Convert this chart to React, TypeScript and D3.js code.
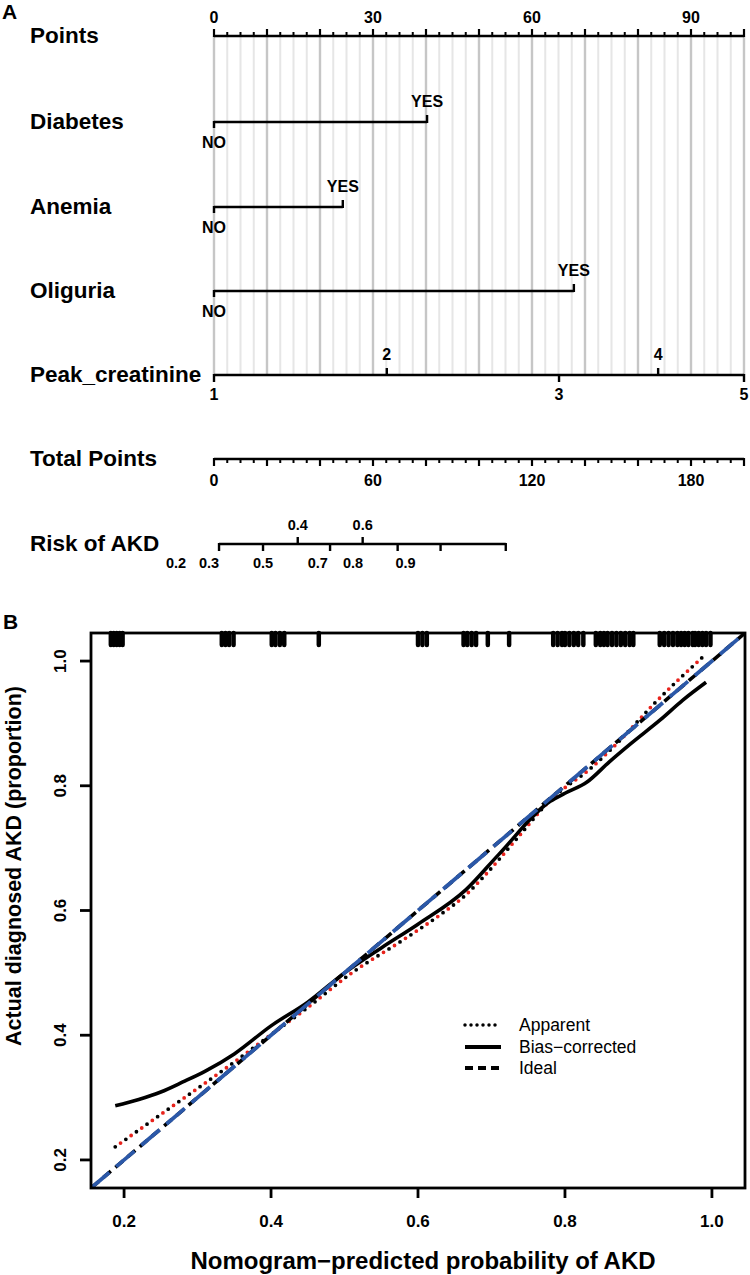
import React from 'react';
import * as d3 from 'd3';

const FONT = '"Liberation Sans", Arial, Helvetica, sans-serif';

// ---------- Panel A (nomogram) data ----------
const pointsTickLabels = [0, 30, 60, 90];
const binaryNames = ['Diabetes', 'Anemia', 'Oliguria'];
const binaryYesPoints = [40.2, 24.3, 67.9];
const binaryLevels = ['NO', 'YES'];
const creatinineLevels = ['1', '2', '3', '4', '5'];
const creatininePoints = [0, 32.6, 65.1, 83.8, 100];
const creatinineUp = [false, true, false, true, false];
const totalTickLabels = [0, 60, 120, 180];
const riskTickTotal = [1.9, 18.5, 31.6, 43.8, 56.1, 69.3, 85.5, 110.1];
const riskTickUp = [false, false, true, false, true, false, false, false];
const riskLabelText = ['0.2', '0.3', '0.4', '0.5', '0.6', '0.7', '0.8', '0.9'];
const riskLabelTotal = [-14.3, -1.9, 31.6, 18.5, 56.1, 39.2, 52.5, 72.3];
const riskLabelUp = [false, false, true, false, true, false, false, false];

// ---------- Panel B (calibration) data ----------
const calTicks = [0.2, 0.4, 0.6, 0.8, 1.0];
const apparentX = [0.188, 0.25, 0.31, 0.35, 0.4, 0.445, 0.51, 0.58, 0.63, 0.665, 0.69, 0.735, 0.78, 0.837, 0.875, 0.92, 0.988];
const apparentY = [0.221, 0.273, 0.323, 0.357, 0.401, 0.44, 0.5, 0.553, 0.593, 0.625, 0.655, 0.716, 0.777, 0.83, 0.873, 0.93, 1.007];
const biasX = [0.188, 0.22, 0.25, 0.28, 0.31, 0.35, 0.4, 0.45, 0.5, 0.55, 0.6, 0.665, 0.71, 0.78, 0.8, 0.83, 0.86, 0.89, 0.93, 0.96, 0.992];
const biasY = [0.287, 0.297, 0.309, 0.325, 0.342, 0.37, 0.415, 0.453, 0.5, 0.54, 0.578, 0.633, 0.69, 0.775, 0.788, 0.806, 0.838, 0.868, 0.906, 0.937, 0.966];
const rugValues = [
  0.182, 0.186, 0.19, 0.194, 0.198,
  0.333, 0.338, 0.343, 0.349,
  0.401, 0.406, 0.412, 0.418,
  0.465,
  0.6, 0.606, 0.612,
  0.662, 0.667, 0.673, 0.679,
  0.695, 0.724,
  0.784, 0.79, 0.796, 0.8, 0.806, 0.812, 0.818, 0.825,
  0.842, 0.848,
  0.853, 0.858, 0.864, 0.87, 0.876, 0.882, 0.888, 0.893,
  0.929, 0.935, 0.941, 0.947, 0.953, 0.958,
  0.963, 0.968, 0.974,
  0.977, 0.982, 0.987, 0.992,
  0.998,
];
const legendLabels = ['Apparent', 'Bias\u2212corrected', 'Ideal'];

export default function App() {
  const pts = d3.scaleLinear().domain([0, 100]).range([214, 744]);
  const tot = d3.scaleLinear().domain([0, 200]).range([214, 744]);

  const yPoints = 36;
  const yBinary = [122, 207, 291];
  const yCreat = 375;
  const yTotal = 459;
  const yRisk = 544;

  const minorGrid = d3.range(0, 100.001, 2.5);
  const majorGrid = d3.range(0, 100.001, 10);
  const totalMinor = d3.range(0, 200.001, 5);
  const totalMajor = d3.range(0, 200.001, 20);

  const rowLabel = (t: string, y: number) => (
    <text x={30} y={y + 7} fontSize={22.5} fontWeight="bold" fontFamily={FONT}>{t}</text>
  );

  // Panel B scales
  const L = 91, R = 745, T = 633, B = 1188;
  const xB = d3.scaleLinear().domain([0.155, 1.045]).range([L, R]);
  const yB = d3.scaleLinear().domain([0.155, 1.045]).range([B, T]);
  const line = d3.line<[number, number]>().x(d => xB(d[0])).y(d => yB(d[1])).curve(d3.curveMonotoneX);
  const appPath = line(apparentX.map((x, i) => [x, apparentY[i]]) as [number, number][]) || '';
  const biasPath = line(biasX.map((x, i) => [x, biasY[i]]) as [number, number][]) || '';
  const idealPath = `M${xB(0.155)},${yB(0.155)}L${xB(1.045)},${yB(1.045)}`;

  const legY = [1025, 1047, 1068];

  return (
    <svg width={750} height={1275} style={{ position: 'absolute', left: 0, top: 0, background: '#fff' }}>
      <rect x={0} y={0} width={750} height={1275} fill="#fff" />
      {/* ===== Panel A ===== */}
      <text x={2} y={19} fontSize={21} fontWeight="bold" fontFamily={FONT}>A</text>

      {/* grid */}
      {minorGrid.map(v => (
        <line key={'gm' + v} x1={pts(v)} x2={pts(v)} y1={yPoints} y2={yCreat} stroke="#e6e6e6" strokeWidth={2} />
      ))}
      {majorGrid.map(v => (
        <line key={'gM' + v} x1={pts(v)} x2={pts(v)} y1={yPoints} y2={yCreat} stroke="#c6c6c6" strokeWidth={2.4} />
      ))}

      {/* Points axis */}
      {rowLabel('Points', yPoints)}
      <line x1={pts(0)} x2={pts(100)} y1={yPoints} y2={yPoints} stroke="#000" strokeWidth={2.6} />
      {minorGrid.map(v => (
        <line key={'pm' + v} x1={pts(v)} x2={pts(v)} y1={yPoints} y2={yPoints - 4} stroke="#000" strokeWidth={2} />
      ))}
      {majorGrid.map(v => (
        <line key={'pM' + v} x1={pts(v)} x2={pts(v)} y1={yPoints + 1} y2={yPoints - 7} stroke="#000" strokeWidth={2.2} />
      ))}
      {pointsTickLabels.map(v => (
        <text key={'pl' + v} x={pts(v)} y={23} fontSize={16} fontWeight="bold" fontFamily={FONT} textAnchor="middle">{v}</text>
      ))}

      {/* Binary variables */}
      {binaryNames.map((name, i) => {
        const y = yBinary[i];
        const xYes = pts(binaryYesPoints[i]);
        return (
          <g key={name}>
            {rowLabel(name, y)}
            <line x1={pts(0)} x2={xYes} y1={y} y2={y} stroke="#000" strokeWidth={2.6} />
            <line x1={pts(0)} x2={pts(0)} y1={y - 1} y2={y + 6} stroke="#000" strokeWidth={2.4} />
            <line x1={xYes} x2={xYes} y1={y + 1} y2={y - 7} stroke="#000" strokeWidth={2.4} />
            <text x={pts(0)} y={y + 26} fontSize={16} fontWeight="bold" fontFamily={FONT} textAnchor="middle">{binaryLevels[0]}</text>
            <text x={xYes} y={y - 15} fontSize={16} fontWeight="bold" fontFamily={FONT} textAnchor="middle">{binaryLevels[1]}</text>
          </g>
        );
      })}

      {/* Peak creatinine */}
      {rowLabel('Peak_creatinine', yCreat)}
      <line x1={pts(0)} x2={pts(100)} y1={yCreat} y2={yCreat} stroke="#000" strokeWidth={2.6} />
      {creatinineLevels.map((lv, i) => {
        const x = pts(creatininePoints[i]);
        const up = creatinineUp[i];
        return (
          <g key={'cr' + lv}>
            <line x1={x} x2={x} y1={up ? yCreat + 1 : yCreat - 1} y2={up ? yCreat - 7 : yCreat + 7} stroke="#000" strokeWidth={2.4} />
            <text x={x} y={up ? yCreat - 15 : yCreat + 25} fontSize={16} fontWeight="bold" fontFamily={FONT} textAnchor="middle">{lv}</text>
          </g>
        );
      })}

      {/* Total points */}
      {rowLabel('Total Points', yTotal)}
      <line x1={tot(0)} x2={tot(200)} y1={yTotal} y2={yTotal} stroke="#000" strokeWidth={2.6} />
      {totalMinor.map(v => (
        <line key={'tm' + v} x1={tot(v)} x2={tot(v)} y1={yTotal} y2={yTotal + 4} stroke="#000" strokeWidth={2} />
      ))}
      {totalMajor.map(v => (
        <line key={'tM' + v} x1={tot(v)} x2={tot(v)} y1={yTotal - 1} y2={yTotal + 7} stroke="#000" strokeWidth={2.2} />
      ))}
      {totalTickLabels.map(v => (
        <text key={'tl' + v} x={tot(v)} y={486} fontSize={16} fontWeight="bold" fontFamily={FONT} textAnchor="middle">{v}</text>
      ))}

      {/* Risk of AKD */}
      {rowLabel('Risk of AKD', yRisk)}
      <line x1={tot(riskTickTotal[0])} x2={tot(riskTickTotal[riskTickTotal.length - 1])} y1={yRisk} y2={yRisk} stroke="#000" strokeWidth={2.6} />
      {riskTickTotal.map((p, i) => (
        <line key={'rt' + i} x1={tot(p)} x2={tot(p)} y1={riskTickUp[i] ? yRisk + 1 : yRisk - 1} y2={riskTickUp[i] ? yRisk - 7 : yRisk + 7} stroke="#000" strokeWidth={2.4} />
      ))}
      {riskLabelText.map((t, i) => (
        <text key={'rl' + i} x={tot(riskLabelTotal[i])} y={riskLabelUp[i] ? 530 : 568} fontSize={14.5} fontWeight="bold" fontFamily={FONT} textAnchor="middle">{t}</text>
      ))}

      {/* ===== Panel B ===== */}
      <text x={3} y={629} fontSize={21} fontWeight="bold" fontFamily={FONT}>B</text>
      <defs>
        <clipPath id="plotClip">
          <rect x={L} y={T} width={R - L} height={B - T} />
        </clipPath>
      </defs>

      <g clipPath="url(#plotClip)">
        {/* apparent: black and red alternating dots */}
        <path d={appPath} fill="none" stroke="#000" strokeWidth={3.8} strokeDasharray="0 13" strokeLinecap="round" />
        <path d={appPath} fill="none" stroke="#e8231c" strokeWidth={3.8} strokeDasharray="0 13" strokeDashoffset={6.5} strokeLinecap="round" />
        {/* bias-corrected */}
        <path d={biasPath} fill="none" stroke="#000" strokeWidth={3.6} />
        {/* ideal */}
        <path d={idealPath} fill="none" stroke="#000" strokeWidth={3.6} strokeDasharray="10 6" />
        <path d={idealPath} fill="none" stroke="#2b58a8" strokeWidth={3.8} strokeDasharray="24 9" />
      </g>

      {/* rug */}
      {rugValues.map((v, i) => (
        <line key={'rug' + i} x1={xB(v)} x2={xB(v)} y1={T} y2={T + 12} stroke="#000" strokeWidth={4.5} strokeLinecap="round" />
      ))}

      <rect x={L} y={T} width={R - L} height={B - T} fill="none" stroke="#000" strokeWidth={2.8} />

      {/* x axis */}
      {calTicks.map(v => (
        <g key={'xt' + v}>
          <line x1={xB(v)} x2={xB(v)} y1={B} y2={B + 10} stroke="#000" strokeWidth={2.8} />
          <text x={xB(v)} y={1227} fontSize={17} fontWeight="bold" fontFamily={FONT} textAnchor="middle">{d3.format('.1f')(v)}</text>
        </g>
      ))}
      {/* y axis */}
      {calTicks.map(v => (
        <g key={'yt' + v}>
          <line x1={L} x2={L - 11} y1={yB(v)} y2={yB(v)} stroke="#000" strokeWidth={2.8} />
          <text x={66} y={yB(v)} transform={`rotate(-90, 66, ${yB(v)})`} fontSize={17} fontWeight="bold" fontFamily={FONT} textAnchor="middle">{d3.format('.1f')(v)}</text>
        </g>
      ))}

      <text x={(L + R) / 2 + 5} y={1269} fontSize={24} fontWeight="bold" fontFamily={FONT} textAnchor="middle">Nomogram{'\u2212'}predicted probability of AKD</text>
      <text x={21} y={866} transform={`rotate(-90, 21, 866)`} fontSize={21.5} fontWeight="bold" fontFamily={FONT} textAnchor="middle">Actual diagnosed AKD (proportion)</text>

      {/* legend */}
      <line x1={465} x2={501} y1={legY[0]} y2={legY[0]} stroke="#000" strokeWidth={3.5} strokeDasharray="0 6" strokeLinecap="round" />
      <line x1={465} x2={501} y1={legY[1]} y2={legY[1]} stroke="#000" strokeWidth={4} />
      <line x1={465} x2={501} y1={legY[2]} y2={legY[2]} stroke="#000" strokeWidth={4} strokeDasharray="8 5" />
      {legendLabels.map((t, i) => (
        <text key={'lg' + i} x={519} y={legY[i] + 6} fontSize={17.5} fontFamily={FONT}>{t}</text>
      ))}
    </svg>
  );
}
